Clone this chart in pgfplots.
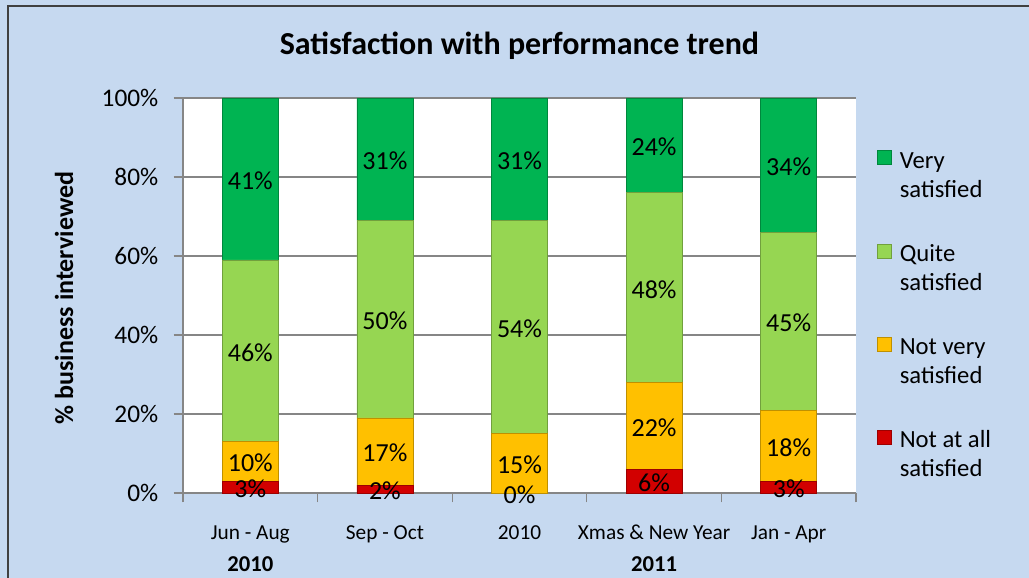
\documentclass[border=0pt]{standalone}
\usepackage{pgfplots}
\usepackage{pgfplotstable}
\pgfplotsset{compat=1.18}
\usepackage{fontspec}
\setmainfont{Carlito}
\definecolor{bgblue}{RGB}{198,217,240}
\definecolor{vgreen}{RGB}{0,180,82}
\definecolor{qgreen}{RGB}{150,214,82}
\definecolor{nyellow}{RGB}{255,192,0}
\definecolor{nred}{RGB}{210,0,0}
\definecolor{gridgray}{RGB}{134,134,134}
\pgfplotstableread{
x red yellow quite very
0 3 10 46 41
1 2 17 50 31
2 0 15 54 31
3 6 22 48 24
4 3 18 45 34
}\sat
\pgfplotsset{
  base/.style={
    at={(137.25pt,63.75pt)}, anchor=south west,
    scale only axis, width=504.75pt, height=296.25pt,
    xmin=-0.5, xmax=4.5, ymin=0, ymax=100,
    clip=false,
  }
}
\begin{document}
\begin{tikzpicture}
\useasboundingbox (0,0) rectangle (771.75pt,433.5pt);
\clip (0,0) rectangle (771.75pt,433.5pt);
\fill[bgblue] (0,0) rectangle (771.75pt,433.5pt);
\draw[line width=1.5pt, black!75] (6pt,-5pt) -- (6pt,429pt) -- (790pt,429pt);
\node[font=\fontsize{24}{28}\selectfont\bfseries, anchor=base] at (389.6pt,392.25pt) {Satisfaction with performance trend};
\node[font=\fontsize{19.5}{23}\selectfont\bfseries, rotate=90] at (48pt,210pt) {\% business interviewed};
\begin{axis}[
  base,
  ybar stacked, bar width=42pt,
  axis background/.style={fill=white},
  axis x line*=bottom, axis y line*=left,
  axis line style={draw=gridgray, line width=0.8pt},
  tick align=outside, major tick length=7pt,
  tick style={draw=gridgray, line width=0.8pt},
  xtick={-0.5,0.5,1.5,2.5,3.5,4.5},
  x tick label as interval,
  xticklabels={Jun - Aug, Sep - Oct, 2010, Xmas \&\ New Year, Jan - Apr},
  xticklabel style={font=\fontsize{16}{19}\selectfont, anchor=base, yshift=-28pt},
  ytick={0,20,40,60,80,100},
  yticklabel={\pgfmathprintnumber{\tick}\%},
  yticklabel style={font=\fontsize{19}{22}\selectfont, xshift=-8pt},
  /pgf/number format/assume math mode=true,
  ymajorgrids, major grid style={draw=gridgray, line width=0.8pt},
  reverse legend,
  legend style={at={(1.031,0.873)}, anchor=north west, draw=none, fill=none,
    font=\fontsize{18.5}{21.5}\selectfont, row sep=53.25pt, inner sep=0pt,
    nodes={inner sep=0pt}, column sep=6pt},
  legend cell align=left,
  legend image code/.code={\fill[#1] (0pt,-4pt) rectangle (10.5pt,6.5pt);},
]
\addplot[fill=nred, draw=nred!75!black, line width=0.5pt] table[x=x,y=red] {\sat};
\addplot[fill=nyellow, draw=nyellow!75!black, line width=0.5pt] table[x=x,y=yellow] {\sat};
\addplot[fill=qgreen, draw=qgreen!75!black, line width=0.5pt] table[x=x,y=quite] {\sat};
\addplot[fill=vgreen, draw=vgreen!75!black, line width=0.5pt] table[x=x,y=very] {\sat};
\addlegendentry{\begin{tabular}[t]{@{}l@{}}Not at all\\satisfied\end{tabular}}
\addlegendentry{\begin{tabular}[t]{@{}l@{}}Not very\\satisfied\end{tabular}}
\addlegendentry{\begin{tabular}[t]{@{}l@{}}Quite\\satisfied\end{tabular}}
\addlegendentry{\begin{tabular}[t]{@{}l@{}}Very\\satisfied\end{tabular}}
\node[font=\fontsize{17}{20}\selectfont\bfseries, anchor=base] at (axis cs:0,0) [yshift=-59.25pt] {2010};
\node[font=\fontsize{17}{20}\selectfont\bfseries, anchor=base] at (axis cs:3,0) [yshift=-59.25pt] {2011};
\end{axis}
% overlay axis for data labels (segment centres computed from the same table), drawn on top of all bars
\begin{axis}[
  base,
  hide axis,
  /pgf/number format/assume math mode=true,
  /pgf/number format/fixed, /pgf/number format/precision=0,
  nodes near coords={\pgfmathprintnumber{\pgfplotspointmeta}\%},
  every node near coord/.append style={font=\fontsize{19.5}{23}\selectfont, anchor=center, yshift=-1.25pt},
]
\addplot[draw=none, mark=none, point meta=\thisrow{red}] table[x=x, y expr={\thisrow{red}/2}] {\sat};
\addplot[draw=none, mark=none, point meta=\thisrow{yellow}] table[x=x, y expr={\thisrow{red}+\thisrow{yellow}/2}] {\sat};
\addplot[draw=none, mark=none, point meta=\thisrow{quite}] table[x=x, y expr={\thisrow{red}+\thisrow{yellow}+\thisrow{quite}/2}] {\sat};
\addplot[draw=none, mark=none, point meta=\thisrow{very}] table[x=x, y expr={\thisrow{red}+\thisrow{yellow}+\thisrow{quite}+\thisrow{very}/2}] {\sat};
\end{axis}
\end{tikzpicture}
\end{document}
